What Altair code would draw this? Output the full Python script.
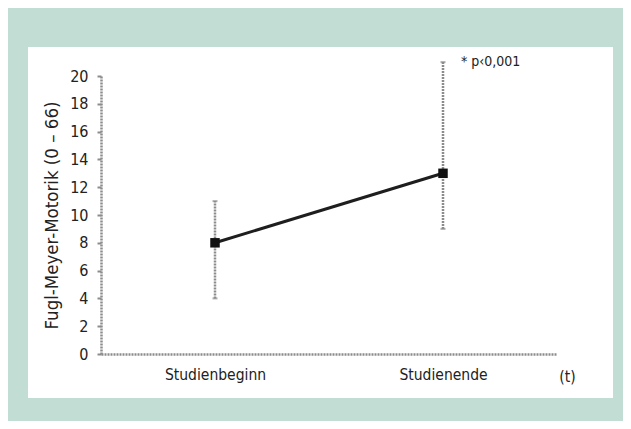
import altair as alt
import pandas as pd

zeitpunkt = ["Studienbeginn", "Studienende"]
mittel = [8, 13]
unten = [4, 9]
oben = [11, 21]
y_ticks = [0, 2, 4, 6, 8, 10, 12, 14, 16, 18, 20]
annotation = "* p\u20390,001"

df = pd.DataFrame({"t": zeitpunkt, "m": mittel, "lo": unten, "hi": oben})

FONT = "DejaVu Sans Condensed, Liberation Sans Narrow, sans-serif"
TEAL = "#c1ddd4"
GREY = "#8c8c8c"

xscale = alt.Scale(type="point", padding=0.5)
yscale = alt.Scale(domain=[0, 20], nice=False)

x_axis = alt.Axis(
    title="(t)", titleX=466, titleY=22, titleBaseline="middle", titleAlign="center",
    titleFont=FONT, titleFontSize=15.5, titleFontWeight="normal", titleColor="#222",
    labelFont=FONT, labelFontSize=15.5, labelColor="#222", labelPadding=13, labelAngle=0,
    ticks=False, domainColor=GREY, domainWidth=2.5, domainDash=[2, 1], zindex=1,
)
y_axis = alt.Axis(
    title="Fugl-Meyer-Motorik (0 \u2013 66)", titleX=-50, titleY=139, titleBaseline="middle",
    titleFont=FONT, titleFontSize=18.5, titleFontWeight="normal", titleColor="#222",
    values=y_ticks, labelFont=FONT, labelFontSize=16, labelColor="#222", labelPadding=9,
    labelOverlap=False,
    tickSize=4, tickWidth=2, tickColor=GREY, domainColor=GREY, domainWidth=2.5,
    domainDash=[2, 1], grid=False, zindex=1,
)

X = alt.X("t:N", scale=xscale, axis=x_axis, sort=zeitpunkt)

panel = alt.Chart(alt.Data(values=[{"a": 1}])).mark_rect(color="white").encode(
    x=alt.value(-73), x2=alt.value(512), y=alt.value(-29), y2=alt.value(322)
)

base = alt.Chart(df)

err = base.mark_rule(color=GREY, strokeWidth=2.5, strokeDash=[2, 1]).encode(
    x=X, y=alt.Y("lo:Q", scale=yscale, axis=y_axis), y2="hi:Q",
)
cap_lo = base.mark_tick(color=GREY, size=5, thickness=2, orient="horizontal").encode(
    x=X, y=alt.Y("lo:Q", scale=yscale, axis=y_axis)
)
cap_hi = base.mark_tick(color=GREY, size=5, thickness=2, orient="horizontal").encode(
    x=X, y=alt.Y("hi:Q", scale=yscale, axis=y_axis)
)
line = base.mark_line(color="#1e1e1e", strokeWidth=3).encode(
    x=X, y=alt.Y("m:Q", scale=yscale, axis=y_axis)
)
pts = base.mark_square(color="#111", size=90, opacity=1).encode(
    x=X, y=alt.Y("m:Q", scale=yscale, axis=y_axis)
)
ann = alt.Chart(pd.DataFrame({"t": [zeitpunkt[1]], "v": [oben[1]], "txt": [annotation]})).mark_text(
    align="left", baseline="middle", dx=18, font=FONT, fontSize=14, color="#222"
).encode(
    x=X, y=alt.Y("v:Q", scale=yscale, axis=y_axis), text="txt:N"
)

chart = alt.layer(panel, err, cap_lo, cap_hi, line, pts, ann).properties(
    width=456, height=278,
    background=TEAL,
    padding={"left": 93, "top": 68, "right": 66, "bottom": 67},
    autosize=alt.AutoSizeParams(type="none"),
).configure_view(stroke=None).configure_axisY(labelOverlap=False)

chart.save("out.html", embed_options={"renderer": "svg", "actions": False})
